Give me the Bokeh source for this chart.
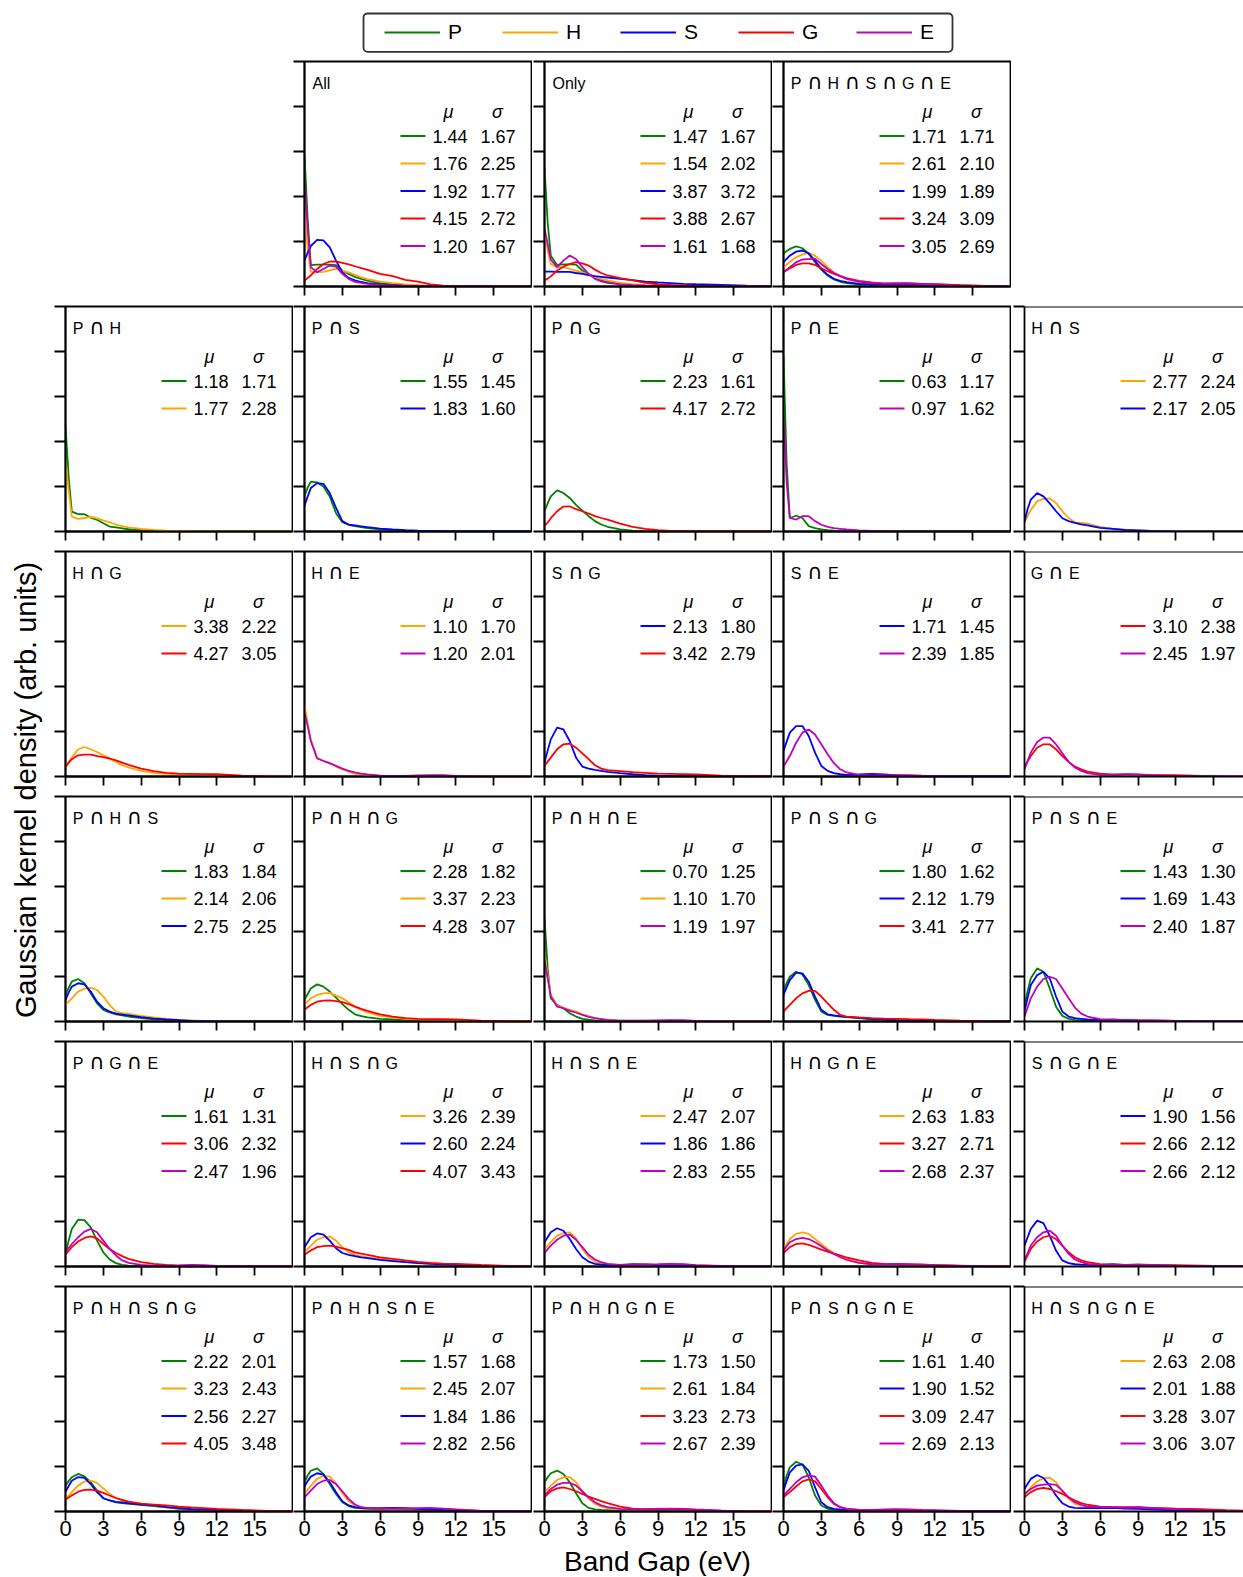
import math
from bokeh.plotting import figure
from bokeh.layouts import row, column
from bokeh.models import (Range1d, FixedTicker, CustomJSTickFormatter, Spacer, Legend,
                          LegendItem, BoxAnnotation, Span)
from bokeh.core.properties import value
from bokeh.embed import file_html
from bokeh.resources import INLINE

FONT = "Liberation Sans"
SYM_FONT = "DejaVu Sans"

# ---------------- data ----------------
SERIES = ["P", "H", "S", "G", "E"]
COLORS = {"P": "#008000", "H": "#FFA500", "S": "#0000FF", "G": "#FF0000", "E": "#BF00BF"}
TICKS_X = [0, 3, 6, 9, 12, 15]
TICK_LABELS_X = ["0", "3", "6", "9", "12", "15"]
TICKS_Y = [0, 0.2, 0.4, 0.6, 0.8, 1.0]

# band gap grid (eV) on which the density curves were read
X = [0, 0.25, 0.5, 1, 1.5, 2, 2.5, 3, 3.5, 4, 4.5, 5, 6, 7, 8, 9, 10, 11, 12, 14, 16, 18]

ALL_P = [.587, .30, .095, .097, .097, .097, .095, .071, .056, .043, .034, .026, .015, .010, .006, .004, .003, .002, .001, .001, 0, 0]
ALL_H = [.336, .17, .065, .064, .065, .072, .078, .071, .063, .052, .041, .033, .022, .015, .009, .006, .003, .002, .001, .001, 0, 0]
ALL_S = [.115, .15, .18, .207, .205, .174, .115, .063, .038, .027, .020, .015, .009, .006, .003, .002, .001, .001, 0, 0, 0, 0]
ALL_G = [.027, .038, .049, .078, .100, .111, .112, .105, .098, .090, .082, .074, .056, .046, .029, .022, .009, .004, .003, .002, .001, 0]
ALL_E = [.469, .26, .086, .063, .078, .093, .088, .056, .034, .021, .016, .012, .007, .005, .003, .002, .001, .001, 0, 0, 0, 0]
MU_ALL = [1.44, 1.76, 1.92, 4.15, 1.20]
SD_ALL = [1.67, 2.25, 1.77, 2.72, 1.67]

ONLY_P = [.528, .285, .137, .096, .098, .098, .097, .071, .055, .040, .027, .020, .012, .007, .004, .003, .002, .001, .001, 0, 0, 0]
ONLY_H = [.255, .16, .10, .086, .086, .078, .071, .063, .052, .041, .034, .027, .016, .010, .006, .004, .002, .001, .001, 0, 0, 0]
ONLY_S = [.066, .066, .066, .065, .065, .065, .060, .056, .051, .046, .043, .040, .034, .028, .022, .018, .015, .012, .010, .007, .004, .002]
ONLY_G = [.027, .035, .045, .071, .088, .100, .108, .103, .093, .075, .060, .049, .037, .027, .016, .010, .007, .005, .003, .001, 0, 0]
ONLY_E = [.258, .19, .12, .086, .115, .138, .122, .086, .056, .034, .023, .016, .009, .006, .004, .003, .002, .001, .001, 0, 0, 0]
MU_ONLY = [1.47, 1.54, 3.87, 3.88, 1.61]
SD_ONLY = [1.67, 2.02, 3.72, 2.67, 1.68]

A5_P = [.145, .158, .167, .178, .170, .145, .108, .075, .049, .031, .021, .015, .009, .009, .009, .010, .010, .009, .007, .004, .002, .001]
A5_H = [.086, .098, .110, .130, .142, .149, .137, .115, .086, .063, .047, .034, .019, .013, .012, .012, .012, .011, .010, .006, .003, .001]
A5_S = [.108, .123, .137, .155, .160, .147, .115, .078, .052, .034, .025, .019, .012, .010, .009, .009, .009, .008, .006, .004, .002, .001]
A5_G = [.063, .072, .080, .096, .103, .103, .096, .081, .068, .056, .046, .037, .025, .018, .013, .013, .013, .012, .010, .006, .003, .001]
A5_E = [.063, .075, .086, .108, .120, .122, .124, .100, .078, .060, .046, .034, .022, .015, .014, .015, .015, .012, .009, .004, .002, .001]
MU_A5 = [1.71, 2.61, 1.99, 3.24, 3.05]
SD_A5 = [1.71, 2.10, 1.89, 3.09, 2.69]

PH_P = [.472, .243, .088, .077, .077, .062, .052, .037, .022, .018, .014, .010, .006, .004, .003, .002, .001, .001, 0, 0, 0, 0]
PH_H = [.317, .184, .066, .056, .060, .065, .058, .049, .041, .031, .024, .018, .012, .007, .004, .003, .002, .001, .001, 0, 0, 0]
MU_PH = [1.18, 1.77]
SD_PH = [1.71, 2.28]

PS_P = [.156, .195, .222, .218, .200, .156, .081, .041, .030, .024, .019, .015, .009, .006, .004, .003, .002, .001, .001, 0, 0, 0]
PS_S = [.115, .155, .193, .215, .212, .171, .105, .046, .031, .027, .023, .019, .013, .009, .006, .004, .003, .002, .001, 0, 0, 0]
MU_PS = [1.55, 1.83]
SD_PS = [1.45, 1.60]

PG_P = [.090, .125, .156, .183, .171, .149, .118, .093, .068, .046, .031, .021, .009, .004, .002, .001, 0, 0, 0, 0, 0, 0]
PG_G = [.024, .040, .059, .090, .111, .112, .099, .090, .080, .068, .060, .053, .035, .021, .012, .006, .003, .002, .001, 0, 0, 0]
MU_PG = [2.23, 4.17]
SD_PG = [1.61, 2.72]

PE_P = [.780, .30, .060, .070, .060, .024, .015, .009, .006, .004, .003, .002, .001, .001, 0, 0, 0, 0, 0, 0, 0, 0]
PE_E = [.520, .22, .060, .053, .068, .068, .046, .030, .021, .015, .012, .009, .005, .003, .002, .001, 0, 0, 0, 0, 0, 0]
MU_PE = [0.63, 0.97]
SD_PE = [1.17, 1.62]

HS_H = [.041, .070, .096, .134, .145, .147, .127, .090, .060, .041, .038, .035, .021, .013, .007, .005, .003, .002, .001, 0, 0, 0]
HS_S = [.046, .100, .142, .171, .156, .125, .090, .059, .046, .038, .032, .027, .016, .012, .007, .005, .003, .002, .001, 0, 0, 0]
MU_HS = [2.77, 2.17]
SD_HS = [2.24, 2.05]

HG_H = [.040, .062, .084, .121, .131, .121, .109, .094, .080, .065, .050, .040, .025, .016, .012, .010, .009, .008, .007, .003, .001, 0]
HG_G = [.044, .062, .077, .094, .097, .097, .091, .086, .080, .072, .062, .052, .035, .024, .016, .013, .012, .011, .010, .004, .001, 0]
MU_HG = [3.38, 4.27]
SD_HG = [2.22, 3.05]

HE_H = [.320, .239, .165, .084, .069, .062, .044, .032, .021, .012, .009, .006, .003, .002, .002, .003, .003, .003, .002, .001, 0, 0]
HE_E = [.283, .224, .158, .080, .069, .058, .047, .035, .025, .018, .013, .009, .004, .003, .003, .005, .006, .006, .003, .001, 0, 0]
MU_HE = [1.10, 1.20]
SD_HE = [1.70, 2.01]

SG_S = [.062, .115, .165, .217, .209, .158, .084, .044, .035, .029, .025, .021, .015, .010, .006, .004, .003, .002, .001, 0, 0, 0]
SG_G = [.047, .066, .084, .121, .143, .146, .128, .103, .077, .050, .035, .028, .024, .019, .016, .013, .012, .011, .009, .004, .001, 0]
MU_SG = [2.13, 3.42]
SD_SG = [1.80, 2.79]

SE_S = [.114, .155, .195, .224, .224, .180, .106, .047, .025, .015, .010, .007, .009, .012, .009, .005, .003, .002, .001, 0, 0, 0]
SE_E = [.044, .068, .091, .150, .195, .209, .187, .143, .099, .059, .032, .018, .007, .005, .006, .006, .006, .004, .003, .001, 0, 0]
MU_SE = [1.71, 2.39]
SD_SE = [1.45, 1.85]

GE_G = [.044, .068, .091, .128, .143, .143, .121, .091, .065, .044, .032, .022, .013, .009, .009, .008, .006, .006, .006, .003, .001, 0]
GE_E = [.032, .070, .106, .153, .173, .173, .143, .103, .065, .040, .025, .015, .007, .007, .010, .009, .006, .004, .003, .001, 0, 0]
MU_GE = [3.10, 2.45]
SD_GE = [2.38, 1.97]

PHS_P = [.118, .150, .177, .189, .170, .125, .081, .052, .040, .032, .027, .022, .015, .009, .006, .004, .002, .001, .001, 0, 0, 0]
PHS_H = [.074, .088, .103, .133, .145, .150, .140, .111, .074, .044, .037, .034, .025, .018, .012, .007, .005, .003, .002, .001, 0, 0]
PHS_S = [.096, .128, .155, .170, .165, .133, .088, .059, .044, .035, .031, .027, .019, .013, .009, .006, .003, .002, .001, 0, 0, 0]
MU_PHS = [1.83, 2.14, 2.75]
SD_PHS = [1.84, 2.06, 2.25]

PHG_P = [.096, .122, .147, .165, .155, .133, .106, .077, .052, .032, .024, .018, .012, .009, .006, .004, .003, .002, .001, 0, 0, 0]
PHG_H = [.074, .089, .103, .118, .125, .127, .115, .103, .086, .066, .053, .040, .025, .018, .012, .008, .006, .005, .004, .002, .001, 0]
PHG_G = [.052, .063, .074, .088, .093, .094, .091, .086, .077, .066, .056, .047, .032, .022, .015, .012, .010, .010, .009, .004, .002, .001]
MU_PHG = [2.28, 3.37, 4.28]
SD_PHG = [1.82, 2.23, 3.07]

PHE_P = [.465, .236, .103, .074, .059, .037, .022, .012, .008, .005, .003, .002, .001, 0, 0, 0, 0, 0, 0, 0, 0, 0]
PHE_H = [.302, .206, .118, .071, .062, .052, .044, .032, .024, .015, .011, .007, .004, .004, .004, .004, .004, .003, .002, .001, 0, 0]
PHE_E = [.273, .192, .111, .066, .059, .047, .040, .029, .021, .015, .011, .007, .004, .004, .004, .005, .006, .006, .003, .001, 0, 0]
MU_PHE = [0.70, 1.10, 1.19]
SD_PHE = [1.25, 1.70, 1.97]

PSG_P = [.140, .170, .199, .221, .209, .162, .096, .044, .029, .025, .022, .019, .015, .010, .007, .005, .003, .002, .001, 0, 0, 0]
PSG_S = [.118, .152, .184, .217, .214, .177, .111, .052, .032, .027, .024, .021, .016, .012, .009, .006, .004, .003, .002, .001, 0, 0]
PSG_G = [.044, .059, .074, .103, .125, .136, .136, .111, .081, .052, .029, .022, .018, .015, .013, .012, .010, .009, .007, .004, .002, .001]
MU_PSG = [1.80, 2.12, 3.41]
SD_PSG = [1.62, 1.79, 2.77]

PSE_P = [.074, .135, .192, .236, .221, .147, .066, .025, .012, .007, .005, .004, .004, .006, .004, .003, .002, .001, 0, 0, 0, 0]
PSE_S = [.044, .105, .162, .206, .221, .192, .111, .044, .022, .015, .012, .009, .006, .009, .006, .004, .003, .002, .001, 0, 0, 0]
PSE_E = [.022, .062, .103, .155, .189, .199, .189, .147, .103, .062, .035, .022, .010, .007, .007, .006, .006, .005, .003, .001, 0, 0]
MU_PSE = [1.43, 1.69, 2.40]
SD_PSE = [1.30, 1.43, 1.87]

PGE_P = [.056, .115, .167, .208, .206, .174, .115, .063, .031, .015, .007, .004, .002, .001, .001, 0, 0, 0, 0, 0, 0, 0]
PGE_G = [.052, .070, .086, .111, .127, .134, .125, .100, .078, .060, .046, .034, .019, .012, .007, .004, .004, .003, .002, .001, 0, 0]
PGE_E = [.063, .082, .100, .130, .155, .167, .152, .115, .078, .049, .027, .016, .007, .004, .004, .005, .007, .006, .003, .001, 0, 0]
MU_PGE = [1.61, 3.06, 2.47]
SD_PGE = [1.31, 2.32, 1.96]

HSG_H = [.063, .078, .093, .119, .130, .133, .115, .086, .063, .052, .046, .041, .034, .027, .021, .016, .013, .011, .009, .004, .001, 0]
HSG_S = [.086, .108, .130, .147, .142, .115, .081, .060, .052, .046, .041, .037, .029, .024, .019, .015, .012, .009, .007, .003, .001, 0]
HSG_G = [.052, .062, .071, .086, .091, .093, .088, .081, .074, .063, .057, .052, .041, .034, .027, .021, .016, .013, .012, .007, .003, .001]
MU_HSG = [3.26, 2.60, 4.07]
SD_HSG = [2.39, 2.24, 3.43]

HSE_H = [.078, .093, .108, .137, .149, .152, .125, .078, .041, .022, .013, .009, .006, .007, .007, .006, .009, .009, .006, .002, 0, 0]
HSE_S = [.108, .130, .152, .170, .159, .122, .078, .041, .022, .012, .008, .006, .007, .010, .009, .006, .006, .007, .004, .001, 0, 0]
HSE_E = [.060, .077, .093, .119, .137, .142, .119, .086, .052, .031, .019, .012, .007, .007, .009, .010, .012, .010, .006, .003, .001, 0]
MU_HSE = [2.47, 1.86, 2.83]
SD_HSE = [2.07, 1.86, 2.55]

HGE_H = [.078, .100, .122, .145, .152, .145, .122, .100, .078, .060, .046, .031, .016, .010, .009, .010, .009, .007, .006, .003, .001, 0]
HGE_G = [.060, .073, .086, .100, .103, .096, .086, .075, .066, .056, .049, .040, .027, .016, .012, .009, .009, .007, .006, .004, .001, 0]
HGE_E = [.071, .090, .108, .122, .127, .122, .108, .090, .071, .056, .041, .030, .016, .010, .010, .012, .010, .009, .006, .003, .001, 0]
MU_HGE = [2.63, 3.27, 2.68]
SD_HGE = [1.83, 2.71, 2.37]

SGE_S = [.093, .130, .167, .204, .193, .137, .071, .027, .015, .010, .008, .007, .007, .010, .007, .006, .004, .003, .002, .001, 0, 0]
SGE_G = [.022, .050, .078, .111, .130, .137, .122, .093, .063, .041, .027, .019, .010, .007, .007, .007, .007, .006, .006, .004, .002, .001]
SGE_E = [.027, .060, .093, .130, .152, .159, .137, .093, .056, .031, .019, .012, .006, .006, .007, .009, .007, .006, .004, .003, .001, 0]
MU_SGE = [1.90, 2.66, 2.66]
SD_SGE = [1.56, 2.12, 2.12]

PHSG_P = [.115, .135, .152, .167, .156, .130, .093, .059, .049, .041, .037, .034, .029, .024, .018, .012, .009, .006, .004, .001, 0, 0]
PHSG_H = [.056, .071, .086, .115, .133, .137, .127, .103, .078, .059, .049, .041, .034, .027, .019, .015, .010, .008, .007, .004, .001, 0]
PHSG_S = [.088, .113, .137, .153, .149, .122, .086, .059, .049, .043, .040, .037, .031, .027, .019, .015, .010, .009, .007, .004, .001, 0]
PHSG_G = [.052, .062, .071, .088, .096, .097, .093, .083, .071, .060, .052, .044, .035, .031, .027, .022, .018, .015, .012, .007, .003, 0]
MU_PHSG = [2.22, 3.23, 2.56, 4.05]
SD_PHSG = [2.01, 2.43, 2.27, 3.48]

PHSE_P = [.130, .160, .181, .192, .167, .122, .078, .041, .024, .016, .014, .012, .010, .012, .010, .009, .007, .006, .004, .001, 0, 0]
PHSE_H = [.078, .097, .115, .145, .158, .155, .125, .081, .046, .027, .019, .015, .012, .013, .013, .012, .012, .012, .009, .003, 0, 0]
PHSE_S = [.111, .135, .155, .170, .164, .130, .086, .046, .027, .019, .016, .015, .015, .016, .015, .012, .009, .007, .006, .003, 0, 0]
PHSE_E = [.063, .078, .093, .122, .137, .140, .122, .090, .056, .031, .019, .015, .012, .013, .013, .015, .016, .013, .009, .003, .001, 0]
MU_PHSE = [1.57, 2.45, 1.84, 2.82]
SD_PHSE = [1.68, 2.07, 1.86, 2.56]

PHGE_P = [.130, .152, .170, .182, .167, .130, .081, .037, .016, .009, .007, .006, .004, .004, .004, .003, .002, .002, .001, 0, 0, 0]
PHGE_H = [.086, .100, .115, .140, .152, .153, .130, .090, .056, .034, .022, .015, .009, .008, .009, .009, .010, .009, .006, .003, 0, 0]
PHGE_G = [.063, .077, .090, .103, .107, .100, .090, .078, .066, .056, .046, .037, .022, .013, .009, .009, .010, .009, .006, .004, .001, 0]
PHGE_E = [.071, .086, .100, .119, .127, .128, .115, .090, .063, .041, .027, .019, .012, .009, .010, .012, .013, .012, .009, .004, .001, 0]
MU_PHGE = [1.73, 2.61, 3.23, 2.67]
SD_PHGE = [1.50, 1.84, 2.73, 2.39]

PSGE_P = [.115, .160, .196, .221, .209, .152, .071, .027, .012, .007, .005, .004, .004, .004, .004, .003, .003, .002, .001, 0, 0, 0]
PSGE_S = [.093, .135, .174, .204, .209, .181, .108, .041, .019, .012, .009, .007, .006, .007, .007, .006, .004, .003, .002, .001, 0, 0]
PSGE_G = [.063, .075, .086, .111, .134, .143, .134, .100, .063, .034, .019, .012, .007, .007, .007, .007, .006, .005, .004, .003, .001, 0]
PSGE_E = [.071, .086, .100, .130, .152, .161, .155, .115, .071, .037, .019, .012, .007, .007, .009, .010, .009, .007, .006, .003, .001, 0]
MU_PSGE = [1.61, 1.90, 3.09, 2.69]
SD_PSGE = [1.40, 1.52, 2.47, 2.13]

HSGE_H = [.071, .090, .108, .134, .148, .150, .130, .090, .056, .034, .025, .021, .019, .019, .019, .018, .015, .012, .010, .007, .003, .001]
HSGE_S = [.100, .123, .145, .162, .149, .115, .071, .037, .022, .016, .015, .015, .015, .016, .013, .012, .009, .007, .006, .003, .001, 0]
HSGE_G = [.063, .075, .086, .100, .105, .100, .090, .078, .063, .049, .037, .030, .022, .019, .018, .018, .016, .015, .013, .010, .006, .003]
HSGE_E = [.078, .090, .100, .115, .119, .122, .118, .093, .063, .041, .030, .022, .019, .019, .018, .019, .016, .013, .010, .006, .002, 0]
MU_HSGE = [2.63, 2.01, 3.28, 3.06]
SD_HSGE = [2.08, 1.88, 3.07, 3.07]

# (row, col, title, series keys, curves, mu, sigma)
PANELS = [
    (0, 1, "All", "PHSGE", [ALL_P, ALL_H, ALL_S, ALL_G, ALL_E], MU_ALL, SD_ALL),
    (0, 2, "Only", "PHSGE", [ONLY_P, ONLY_H, ONLY_S, ONLY_G, ONLY_E], MU_ONLY, SD_ONLY),
    (0, 3, "P∩H∩S∩G∩E", "PHSGE", [A5_P, A5_H, A5_S, A5_G, A5_E], MU_A5, SD_A5),
    (1, 0, "P∩H", "PH", [PH_P, PH_H], MU_PH, SD_PH),
    (1, 1, "P∩S", "PS", [PS_P, PS_S], MU_PS, SD_PS),
    (1, 2, "P∩G", "PG", [PG_P, PG_G], MU_PG, SD_PG),
    (1, 3, "P∩E", "PE", [PE_P, PE_E], MU_PE, SD_PE),
    (1, 4, "H∩S", "HS", [HS_H, HS_S], MU_HS, SD_HS),
    (2, 0, "H∩G", "HG", [HG_H, HG_G], MU_HG, SD_HG),
    (2, 1, "H∩E", "HE", [HE_H, HE_E], MU_HE, SD_HE),
    (2, 2, "S∩G", "SG", [SG_S, SG_G], MU_SG, SD_SG),
    (2, 3, "S∩E", "SE", [SE_S, SE_E], MU_SE, SD_SE),
    (2, 4, "G∩E", "GE", [GE_G, GE_E], MU_GE, SD_GE),
    (3, 0, "P∩H∩S", "PHS", [PHS_P, PHS_H, PHS_S], MU_PHS, SD_PHS),
    (3, 1, "P∩H∩G", "PHG", [PHG_P, PHG_H, PHG_G], MU_PHG, SD_PHG),
    (3, 2, "P∩H∩E", "PHE", [PHE_P, PHE_H, PHE_E], MU_PHE, SD_PHE),
    (3, 3, "P∩S∩G", "PSG", [PSG_P, PSG_S, PSG_G], MU_PSG, SD_PSG),
    (3, 4, "P∩S∩E", "PSE", [PSE_P, PSE_S, PSE_E], MU_PSE, SD_PSE),
    (4, 0, "P∩G∩E", "PGE", [PGE_P, PGE_G, PGE_E], MU_PGE, SD_PGE),
    (4, 1, "H∩S∩G", "HSG", [HSG_H, HSG_S, HSG_G], MU_HSG, SD_HSG),
    (4, 2, "H∩S∩E", "HSE", [HSE_H, HSE_S, HSE_E], MU_HSE, SD_HSE),
    (4, 3, "H∩G∩E", "HGE", [HGE_H, HGE_G, HGE_E], MU_HGE, SD_HGE),
    (4, 4, "S∩G∩E", "SGE", [SGE_S, SGE_G, SGE_E], MU_SGE, SD_SGE),
    (5, 0, "P∩H∩S∩G", "PHSG", [PHSG_P, PHSG_H, PHSG_S, PHSG_G], MU_PHSG, SD_PHSG),
    (5, 1, "P∩H∩S∩E", "PHSE", [PHSE_P, PHSE_H, PHSE_S, PHSE_E], MU_PHSE, SD_PHSE),
    (5, 2, "P∩H∩G∩E", "PHGE", [PHGE_P, PHGE_H, PHGE_G, PHGE_E], MU_PHGE, SD_PHGE),
    (5, 3, "P∩S∩G∩E", "PSGE", [PSGE_P, PSGE_S, PSGE_G, PSGE_E], MU_PSGE, SD_PSGE),
    (5, 4, "H∩S∩G∩E", "HSGE", [HSGE_H, HSGE_S, HSGE_G, HSGE_E], MU_HSGE, SD_HSGE),
]

# ---------------- layout constants (pixels) ----------------
SX = 227 / 18.0          # pixels per eV
FH = 225                 # frame height
COL_LEFT = [12, 11, 12, 11, 13]
COL_FW = [227, 227, 227, 227, 219]
COL_RIGHT = [1, 1, 1, 1, 0]
TOP_B = 7
BOT_B = 13
BOT_B_LAST = 35
LW = 1.8


def xs(px):
    return px / SX


def ys(py):
    return 1 - py / FH


def style_axis(ax, tick_out):
    ax.axis_line_width = LW
    ax.axis_line_color = "black"
    ax.major_tick_line_width = LW
    ax.major_tick_line_color = "black"
    ax.major_tick_in = 0
    ax.major_tick_out = tick_out
    ax.minor_tick_in = 0
    ax.minor_tick_out = 0


def hide_labels(ax):
    ax.major_label_text_font_size = "0px"
    ax.formatter = CustomJSTickFormatter(code="return '';")
    ax.major_label_standoff = 0


def draw_title(p, title):
    if "∩" not in title:
        p.text(x=[xs(8)], y=[ys(21.5)], text=[title],
               text_font=value(FONT), text_font_size=value("16px"),
               text_align="left", text_baseline="middle", text_color="black")
        return
    lx, lt, cx = [], [], []
    for i, ch in enumerate(title):
        px = xs(12.5 + 18.7 * i)
        if ch == "∩":
            cx.append(px)
        else:
            lx.append(px)
            lt.append(ch)
    p.text(x=lx, y=[ys(21.5)] * len(lx), text=lt,
           text_font=value(FONT), text_font_size=value("16px"),
           text_align="center", text_baseline="middle", text_color="black")
    p.text(x=cx, y=[ys(20.0)] * len(cx), text=["∩"] * len(cx),
           text_font=value(SYM_FONT), text_font_size=value("21px"),
           text_align="center", text_baseline="middle", text_color="black")


def make_panel(r, c, title, keys, curves, mus, sds):
    last_row = (r == 5)
    fw = COL_FW[c]
    p = figure(frame_width=fw, frame_height=FH,
               x_range=Range1d(0, fw / SX), y_range=Range1d(0, 1),
               min_border_left=COL_LEFT[c], min_border_right=COL_RIGHT[c],
               min_border_top=TOP_B, min_border_bottom=BOT_B_LAST if last_row else BOT_B,
               output_backend="svg", toolbar_location=None, tools="",
               background_fill_color="white", border_fill_color="white")
    p.xgrid.visible = False
    p.ygrid.visible = False
    if c == 4:
        p.outline_line_color = None
        p.add_layout(Span(location=1, dimension="width", line_color="black", line_width=LW))
    else:
        p.outline_line_color = "black"
        p.outline_line_width = LW
    xa = p.xaxis[0]
    ya = p.yaxis[0]
    style_axis(xa, 9)
    style_axis(ya, 11)
    xa.ticker = FixedTicker(ticks=TICKS_X)
    ya.ticker = FixedTicker(ticks=TICKS_Y)
    hide_labels(ya)
    if last_row:
        xa.major_label_overrides = {t: lab for t, lab in zip(TICKS_X, TICK_LABELS_X)}
        xa.major_label_text_font = FONT
        xa.major_label_text_font_size = "22px"
        xa.major_label_text_color = "black"
        xa.major_label_standoff = 0
    else:
        hide_labels(xa)

    for k, yv in zip(keys, curves):
        p.line(X, yv, line_color=COLORS[k], line_width=LW)

    draw_title(p, title)
    # table header
    p.text(x=[xs(144), xs(193)], y=[ys(50), ys(50)], text=["μ", "σ"],
           text_font=value(FONT), text_font_size=value("18px"), text_font_style="italic",
           text_align="center", text_baseline="middle", text_color="black")
    n = len(keys)
    yr = [ys(74.5 + 27.5 * i) for i in range(n)]
    p.segment(x0=[xs(96)] * n, y0=yr, x1=[xs(121)] * n, y1=yr,
              line_color=[COLORS[k] for k in keys], line_width=LW)
    p.text(x=[xs(128)] * n, y=yr, text=[f"{m:.2f}" for m in mus],
           text_font=value(FONT), text_font_size=value("18px"),
           text_align="left", text_baseline="middle", text_color="black")
    p.text(x=[xs(176)] * n, y=yr, text=[f"{s:.2f}" for s in sds],
           text_font=value(FONT), text_font_size=value("18px"),
           text_align="left", text_baseline="middle", text_color="black")
    return p


# ---------------- build grid ----------------
cells = {}
for (r, c, title, keys, curves, mus, sds) in PANELS:
    cells[(r, c)] = make_panel(r, c, title, keys, curves, mus, sds)

row_layouts = []
for r in range(6):
    children = []
    for c in range(5):
        if (r, c) in cells:
            children.append(cells[(r, c)])
        else:
            w = COL_LEFT[c] + COL_FW[c] + COL_RIGHT[c]
            h = TOP_B + FH + (BOT_B_LAST if r == 5 else BOT_B)
            children.append(Spacer(width=w, height=h))
    row_layouts.append(row(*children, spacing=0))

MAIN_W = sum(COL_LEFT) + sum(COL_FW) + sum(COL_RIGHT)   # 1190
LEG_H = 54
XL_H = 30
TOTAL_H = LEG_H + 5 * (TOP_B + FH + BOT_B) + (TOP_B + FH + BOT_B_LAST) + XL_H
YL_W = 53

# legend strip
lg = figure(width=MAIN_W, height=LEG_H, x_range=Range1d(0, MAIN_W), y_range=Range1d(0, LEG_H),
            x_axis_type=None, y_axis_type=None, min_border=0, outline_line_color=None,
            output_backend="svg", toolbar_location=None, tools="")
# legend renderers hold points outside the visible range, so only their legend glyph shows
rends = [lg.line(x=[-100, -90], y=[-100, -100], line_color=COLORS[k], line_width=LW)
         for k in SERIES]
leg = Legend(items=[LegendItem(label=k, renderers=[rr]) for k, rr in zip(SERIES, rends)],
             orientation="horizontal", location=(331, 10),
             glyph_width=56, glyph_height=20, label_height=20, label_width=20,
             label_standoff=8, spacing=34, padding=0, margin=0,
             border_line_color=None, background_fill_alpha=0,
             label_text_font=FONT, label_text_font_size="21px", label_text_color="black")
lg.add_layout(leg)
lg.add_layout(BoxAnnotation(left=310, right=899, bottom=LEG_H - 51.3, top=LEG_H - 13,
                            fill_alpha=0, line_color="#333333", line_alpha=1.0,
                            line_width=LW, border_radius=4))

# x label strip
xl = figure(width=MAIN_W, height=XL_H, x_range=Range1d(0, MAIN_W), y_range=Range1d(0, XL_H),
            x_axis_type=None, y_axis_type=None, min_border=0, outline_line_color=None,
            output_backend="svg", toolbar_location=None, tools="")
xl.text(x=[604], y=[XL_H - 15], text=["Band Gap (eV)"], text_font=value(FONT),
        text_font_size=value("28px"), text_align="center", text_baseline="middle",
        text_color="black")

# y label strip
yl = figure(width=YL_W, height=TOTAL_H, x_range=Range1d(0, YL_W), y_range=Range1d(0, TOTAL_H),
            x_axis_type=None, y_axis_type=None, min_border=0, outline_line_color=None,
            output_backend="svg", toolbar_location=None, tools="")
yl.text(x=[25], y=[TOTAL_H - 789.5], text=["Gaussian kernel density (arb. units)"],
        text_font=value(FONT), text_font_size=value("29px"), angle=math.pi / 2,
        text_align="center", text_baseline="middle", text_color="black")

main = column(lg, *row_layouts, xl, spacing=0)
page = row(yl, main, spacing=0)

open("out.html", "w").write(file_html(page, INLINE, title="Band gap KDE"))
